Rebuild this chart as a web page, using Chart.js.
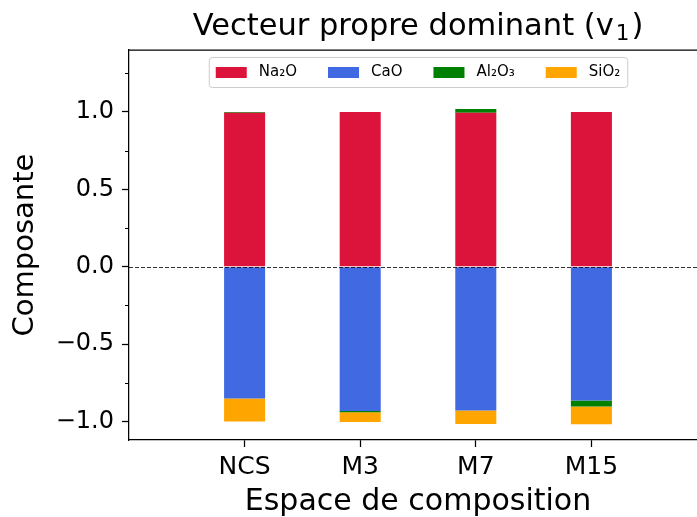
<!DOCTYPE html>
<html>
<head>
<meta charset="utf-8">
<script src="https://cdn.jsdelivr.net/npm/chart.js@4/dist/chart.umd.min.js"></script>
<style>
  html, body { margin: 0; padding: 0; background: #fff; overflow: hidden; }
  #wrap { width: 710px; height: 517px; }
</style>
</head>
<body>
<div id="wrap"><canvas id="c" width="710" height="517"></canvas></div>
<script>
// ---- data ----
const categories = ['NCS', 'M3', 'M7', 'M15'];
const seriesNames = ['Na₂O', 'CaO', 'Al₂O₃', 'SiO₂'];
const na2o  = [0.994, 1.000, 0.994, 1.000];
const cao   = [-0.852, -0.933, -0.929, -0.865];
const al2o3 = [0.006, -0.008, 0.025, -0.039];
const sio2  = [-0.148, -0.062, -0.088, -0.114];
const yTicks = [-1.0, -0.5, 0.0, 0.5, 1.0];
const yMinorTicks = [-0.75, -0.25, 0.25, 0.75, 1.25];
const titleMain = 'Vecteur propre dominant (v';
const titleSub = '1';
const titleEnd = ')';
const colors = ['#DC143C', '#4169E1', '#008000', '#FFA500'];

const FONT = "'DejaVu Sans', sans-serif";
const toPts = arr => arr.map((v, i) => ({ x: i, y: v }));

const datasets = [na2o, cao, al2o3, sio2].map((vals, k) => ({
  label: seriesNames[k],
  data: toPts(vals),
  backgroundColor: colors[k],
  borderWidth: 0,
  barPercentage: 0.355,
  categoryPercentage: 1.0
}));

const frame = {
  id: 'frame',
  beforeDraw(chart) {
    const ctx = chart.ctx;
    ctx.save();
    ctx.fillStyle = '#fff';
    ctx.fillRect(0, 0, chart.width, chart.height);
    ctx.restore();
  },
  afterDatasetsDraw(chart) {
    const ctx = chart.ctx, a = chart.chartArea, y = chart.scales.y;
    const y0 = Math.round(y.getPixelForValue(0)) + 0.5;
    ctx.save();
    ctx.strokeStyle = '#000';
    ctx.lineWidth = 0.8;
    ctx.setLineDash([4, 2]);
    ctx.beginPath();
    ctx.moveTo(a.left, y0);
    ctx.lineTo(a.right, y0);
    ctx.stroke();
    ctx.restore();
  },
  afterDraw(chart) {
    const ctx = chart.ctx, a = chart.chartArea, y = chart.scales.y;
    ctx.save();
    // top spine
    ctx.strokeStyle = '#000';
    ctx.lineWidth = 1.25;
    ctx.beginPath();
    ctx.moveTo(a.left, a.top);
    ctx.lineTo(a.right, a.top);
    ctx.stroke();
    // minor ticks
    ctx.lineWidth = 1;
    yMinorTicks.forEach(v => {
      const py = Math.round(y.getPixelForValue(v)) + 0.5;
      ctx.beginPath();
      ctx.moveTo(a.left - 4, py);
      ctx.lineTo(a.left, py);
      ctx.stroke();
    });
    // title with subscript
    const cx = (a.left + a.right) / 2;
    ctx.fillStyle = '#000';
    ctx.textBaseline = 'alphabetic';
    ctx.textAlign = 'left';
    const big = '30.5px ' + FONT, small = '21.5px ' + FONT;
    ctx.font = big;
    const w1 = ctx.measureText(titleMain).width, w3 = ctx.measureText(titleEnd).width;
    ctx.font = small;
    const w2 = ctx.measureText(titleSub).width;
    const tw = w1 + w2 + w3 + 4;
    let tx = cx - tw / 2;
    const base = 35;
    ctx.font = big; ctx.fillText(titleMain, tx, base); tx += w1 + 2;
    ctx.font = small; ctx.fillText(titleSub, tx, base + 5); tx += w2 + 2;
    ctx.font = big; ctx.fillText(titleEnd, tx, base);
    // legend
    ctx.font = '15px ' + FONT;
    ctx.textBaseline = 'middle';
    const patchW = 31, patchH = 11, gapText = 12, gapItem = 31, padX = 7;
    const widths = chart.data.datasets.map(d => ctx.measureText(d.label).width);
    let total = padX * 2;
    widths.forEach((w, i) => { total += patchW + gapText + w + (i < widths.length - 1 ? gapItem : 0); });
    const bx = cx - total / 2, by = a.top + 7, bh = 30;
    ctx.beginPath();
    if (ctx.roundRect) ctx.roundRect(bx + 0.5, by + 0.5, total, bh, 3); else ctx.rect(bx + 0.5, by + 0.5, total, bh);
    ctx.fillStyle = 'rgba(255,255,255,0.8)';
    ctx.fill();
    ctx.strokeStyle = '#cccccc';
    ctx.lineWidth = 1;
    ctx.stroke();
    let x = bx + padX;
    const my = by + bh / 2 + 0.5;
    chart.data.datasets.forEach((d, i) => {
      ctx.fillStyle = d.backgroundColor;
      ctx.fillRect(x, my - patchH / 2, patchW, patchH);
      ctx.fillStyle = '#000';
      ctx.fillText(d.label, x + patchW + gapText, my);
      x += patchW + gapText + widths[i] + gapItem;
    });
    ctx.restore();
  }
};

new Chart(document.getElementById('c'), {
  type: 'bar',
  data: { datasets },
  plugins: [frame],
  options: {
    responsive: false,
    animation: false,
    devicePixelRatio: 1,
    layout: { padding: { left: 0, right: 3, top: 50, bottom: 0 } },
    plugins: {
      legend: { display: false },
      tooltip: { enabled: false },
      title: { display: false }
    },
    scales: {
      x: {
        type: 'linear',
        stacked: true,
        offset: false,
        min: -1, max: 4,
        afterBuildTicks: s => { s.ticks = categories.map((c, i) => ({ value: i })); },
        afterFit: s => { s.height = 77; },
        ticks: {
          color: '#000',
          font: { family: FONT, size: 25 },
          padding: 5,
          callback: v => categories[v]
        },
        grid: { offset: false, drawOnChartArea: false, drawTicks: true, tickLength: 7, tickColor: '#000', tickWidth: 1.25 },
        border: { display: true, color: '#000', width: 1.25 },
        title: {
          display: true,
          text: 'Espace de composition',
          color: '#000',
          font: { family: FONT, size: 30, lineHeight: 1 },
          padding: { top: 0, bottom: 0 }
        }
      },
      y: {
        stacked: true,
        min: -1.12, max: 1.4,
        afterBuildTicks: s => { s.ticks = yTicks.map(v => ({ value: v })); },
        afterFit: s => { s.width = 129; },
        ticks: {
          color: '#000',
          font: { family: FONT, size: 24 },
          padding: 8,
          callback: v => v.toFixed(1).replace('-', '−')
        },
        grid: { drawOnChartArea: false, drawTicks: true, tickLength: 7, tickColor: '#000', tickWidth: 1.25 },
        border: { display: true, color: '#000', width: 1.25 },
        title: {
          display: true,
          text: 'Composante',
          color: '#000',
          font: { family: FONT, size: 29, lineHeight: 1 },
          padding: { top: 11, bottom: 0 }
        }
      }
    }
  }
});
</script>
</body>
</html>
